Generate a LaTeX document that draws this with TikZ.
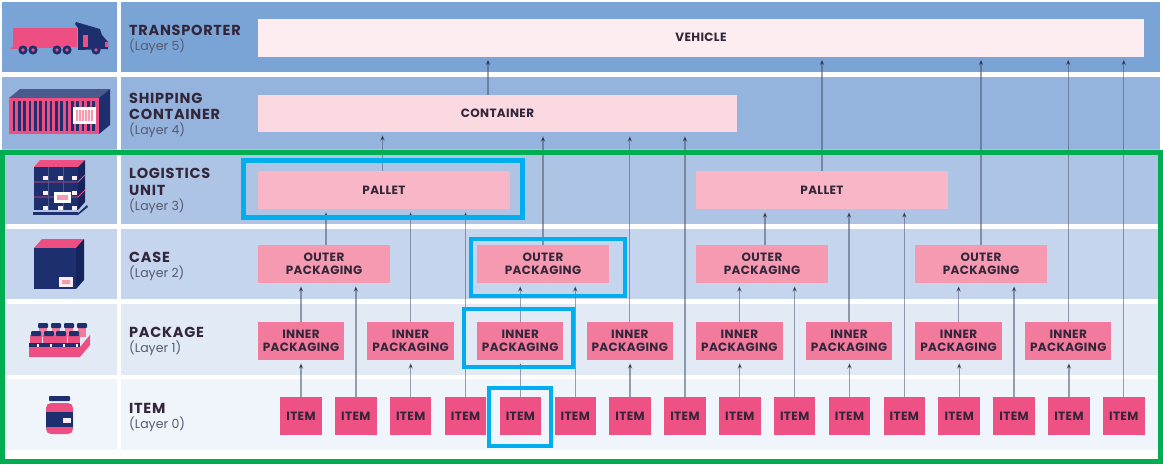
\documentclass[tikz,border=0pt]{standalone}
\usepackage{fontspec}
\setmainfont{Poppins}
\usetikzlibrary{arrows.meta}
\definecolor{rowf}{HTML}{7BA4D6}
\definecolor{rowe}{HTML}{94B3DD}
\definecolor{rowd}{HTML}{AEC4E4}
\definecolor{rowc}{HTML}{C5D5EE}
\definecolor{rowb}{HTML}{E2EAF6}
\definecolor{rowa}{HTML}{F0F5FB}
\definecolor{boxveh}{HTML}{FDEDF0}
\definecolor{boxcon}{HTML}{FBD9E1}
\definecolor{boxpal}{HTML}{F8B6C6}
\definecolor{boxout}{HTML}{F59AB0}
\definecolor{boxinn}{HTML}{F27A9C}
\definecolor{boxite}{HTML}{EE5285}
\definecolor{ink}{HTML}{33263A}
\definecolor{sub}{HTML}{565A70}
\definecolor{navy}{HTML}{1D2F6F}
\definecolor{navyd}{HTML}{15245C}
\definecolor{slate}{HTML}{4B5A8C}
\definecolor{hot}{HTML}{EE4F82}
\definecolor{wire}{HTML}{4A5570}
\definecolor{framegreen}{HTML}{00AD50}
\definecolor{frameblue}{HTML}{00AEEF}
\tikzset{
  band/.style={fill=#1,draw=none},
  boxbase/.style={draw=none,inner sep=0pt,align=center,text=ink,text depth=-2pt,
    font=\fontsize{12}{13}\selectfont\bfseries\addfontfeatures{LetterSpace=3}},
  vehbox/.style={boxbase,fill=boxveh,minimum width=886pt,minimum height=38pt},
  conbox/.style={boxbase,fill=boxcon,minimum width=479pt,minimum height=37pt},
  palbox/.style={boxbase,fill=boxpal,minimum width=252pt,minimum height=38pt},
  outbox/.style={boxbase,fill=boxout,minimum width=132pt,minimum height=38pt},
  innbox/.style={boxbase,fill=boxinn,minimum width=86.5pt,minimum height=38pt},
  itembox/.style={boxbase,fill=boxite,minimum width=41.5pt,minimum height=38pt},
  conn/.style={draw=wire,draw opacity=.55,line width=1.3pt,shorten >=3pt,
    -{Stealth[length=5.5pt,width=4.5pt,color=ink!90!black]}},
  ttl/.style={anchor=west,inner sep=0pt,text=ink,
    font=\fontsize{14.5}{15}\selectfont\bfseries\addfontfeatures{LetterSpace=5}},
  lay/.style={anchor=west,inner sep=0pt,text=sub,font=\fontsize{12.5}{13}\selectfont},
  gframe/.style={draw=framegreen,line width=5pt},
  bframe/.style={draw=frameblue,line width=4.6pt}
}
\begin{document}
\begin{tikzpicture}[x=1pt,y=-1pt]
\useasboundingbox (0,0) rectangle (1163,464);
\fill[white] (0,0) rectangle (1163,464);
% row bands
\foreach \ya/\yb/\c in {2/72/rowf,77/149/rowe,149/224/rowd,229/299/rowc,304/375/rowb,379/450/rowa}{
  \fill[band=\c] (2,\ya) rectangle (116.5,\yb);
  \fill[band=\c] (120.5,\ya) rectangle (1160,\yb);
}
% boxes
\node[vehbox] (veh) at (701,37.5) {VEHICLE};
\node[conbox] (con) at (497.5,113.5) {CONTAINER};
\node[palbox] (p1) at (384,190) {PALLET};
\node[palbox] (p2) at (822,190) {PALLET};
\foreach \n/\x in {1/324,2/543,3/762,4/981}
  \node[outbox] (o\n) at (\x,264) {OUTER\\PACKAGING};
\foreach \n in {1,...,8}{
  \pgfmathsetmacro{\xx}{301+109.6*(\n-1)}
  \node[innbox] (n\n) at (\xx,341) {INNER\\PACKAGING};
}
\foreach \n in {1,...,16}{
  \pgfmathsetmacro{\xx}{301+54.85*(\n-1)}
  \node[itembox] (i\n) at (\xx,416) {ITEM};
}
% connectors: item -> inner
\foreach \a/\b in {i1/n1,i3/n2,i5/n3,i7/n4,i9/n5,i11/n6,i13/n7,i15/n8}
  \draw[conn] (\a.north) -- (\a.north |- \b.south);
% item -> outer
\foreach \a/\b in {i2/o1,i6/o2,i10/o3,i14/o4}
  \draw[conn] (\a.north) -- (\a.north |- \b.south);
% inner -> outer
\foreach \a/\b in {n1/o1,n3/o2,n5/o3,n7/o4}
  \draw[conn] (\a.north) -- (\a.north |- \b.south);
% to pallet
\foreach \a/\b in {n2/p1,i4/p1,n6/p2,i12/p2}
  \draw[conn] (\a.north) -- (\a.north |- \b.south);
\draw[conn] ([xshift=2pt]o1.north) -- ([xshift=2pt]o1.north |- p1.south);
\draw[conn] ([xshift=3pt]o3.north) -- ([xshift=3pt]o3.north |- p2.south);
% to container
\draw[conn] ([xshift=-1.5pt]p1.north) -- ([xshift=-1.5pt]p1.north |- con.south);
\foreach \a in {o2,n4,i8}
  \draw[conn,shorten >=4pt] (\a.north) -- (\a.north |- con.south);
% to vehicle
\draw[conn] ([xshift=-9.5pt]con.north) -- ([xshift=-9.5pt]con.north |- veh.south);
\foreach \a in {p2,o4,n8,i16}
  \draw[conn] (\a.north) -- (\a.north |- veh.south);
% row labels
\node[ttl] (t5) at (129,30) {TRANSPORTER};
\node[lay] (l5) at (129,46) {(Layer 5)};
\node[ttl] (t4a) at (129,98) {SHIPPING};
\node[ttl] (t4b) at (129,114) {CONTAINER};
\node[lay] (l4) at (129,130) {(Layer 4)};
\node[ttl] (t3a) at (129,173) {LOGISTICS};
\node[ttl] (t3b) at (129,190) {UNIT};
\node[lay] (l3) at (129,206) {(Layer 3)};
\node[ttl] (t2) at (129,257) {CASE};
\node[lay] (l2) at (129,273) {(Layer 2)};
\node[ttl] (t1) at (129,332) {PACKAGE};
\node[lay] (l1) at (129,348) {(Layer 1)};
\node[ttl] (t0) at (129,408) {ITEM};
\node[lay] (l0) at (129,424) {(Layer 0)};
% truck icon
\fill[hot] (13,28) -- (77,28) -- (77,47) -- (10,49) -- (13,46) -- cycle;
\fill[navy] (76,22) -- (100,29) -- (102,35) -- (108,42) -- (108,49) -- (78,50) -- (78,28) -- (75,24) -- cycle;
\fill[hot] (83,35) rectangle (88,47);
\fill[hot] (105,42) rectangle (108,47);
\foreach \x in {23,33,57,67,96}{
  \fill[navy] (\x,50) circle (4.6);
  \fill[hot] (\x,50) circle (1.9);
}
% container icon
\fill[slate] (9,98) -- (20,89) -- (110,89) -- (99,98) -- cycle;
\fill[navy] (99,98) -- (110,89) -- (110,125) -- (99,134) -- cycle;
\fill[hot] (9,98) rectangle (99,134);
\foreach \x in {14,19.3,24.6,29.9,35.2,40.5,45.8,51.1,56.4,61.7,67,72.3,77.6,82.9,88.2,93.5}
  \fill[navy] (\x-1.3,101) rectangle (\x+1.3,131);
\fill[white] (73,107) rectangle (96,124);
\fill[boxout] (76,110) rectangle (93,121);
\foreach \x in {78,81,84,87,90}
  \fill[boxveh] (\x,110) rectangle (\x+.8,121);
% pallet icon
\fill[hot] (34,167) -- (40,160) -- (85,160) -- (78,167) -- cycle;
\fill[navy] (34,167) rectangle (78,210);
\fill[navyd] (78,167) -- (85,160) -- (85,202) -- (78,210) -- cycle;
\foreach \y in {182,197}{
  \draw[hot,line width=0.8pt] (34,\y) -- (78,\y) -- (85,\y-7);
}
\foreach \x in {48,63}{\draw[slate,line width=.6pt] (\x,167) -- (\x,210);}
\foreach \x/\y in {45/178,60/178,74/178,45/193,74/193,45/208,60/208,74/208}
  \fill[boxveh] (\x-2.5,\y-2) rectangle (\x+2.5,\y+2);
\fill[white] (54,192) rectangle (71,203);
\fill[boxout] (57,195) rectangle (68,200);
\fill[navy] (33,212) rectangle (78,215);
\fill[navy] (76,215) -- (87,205) -- (88,207) -- (78,215) -- cycle;
% case icon
\fill[hot] (34,248) -- (42,239) -- (84,239) -- (76,248) -- cycle;
\fill[navy] (34,248) rectangle (76,289);
\fill[navyd] (76,248) -- (84,239) -- (84,280) -- (76,289) -- cycle;
\fill[boxveh] (59,277) rectangle (73,287);
\fill[boxout] (62,280) rectangle (70,284);
% package icon
\fill[hot] (29,347) -- (80,347) -- (90,335) -- (90,345) -- (80,357) -- (29,357) -- cycle;
\foreach \x in {43,56,69,82}{
  \fill[boxinn] (\x-4,328) rectangle (\x+4,337);
  \fill[navy,rounded corners=1pt] (\x-5,323) rectangle (\x+5,328);
}
\foreach \x in {36,49,61,74}{
  \fill[hot] (\x-6,335) rectangle (\x+6,343);
  \fill[navy,rounded corners=1pt] (\x-5,331) rectangle (\x+5,336);
}
\fill[navy] (29,343) rectangle (80,347);
\foreach \x in {38,51,64,77}
  \fill[boxveh] (\x-1.4,343.5) rectangle (\x+1.4,346.5);
% jar icon
\fill[navy,rounded corners=.8pt] (49,396) rectangle (70,401);
\fill[hot,rounded corners=5pt] (46,403) rectangle (73,434);
\fill[navy] (46,412) rectangle (73,427);
\fill[boxveh] (63,418) rectangle (71,423);
% highlight frames
\draw[gframe] (2.5,152) rectangle (1160.5,461);
\draw[bframe] (243.5,160.5) rectangle (522.5,217.5);
\draw[bframe] (471,239) rectangle (625,296);
\draw[bframe] (464,309) rectangle (573,367);
\draw[bframe] (489,388) rectangle (551,446);
\end{tikzpicture}
\end{document}
